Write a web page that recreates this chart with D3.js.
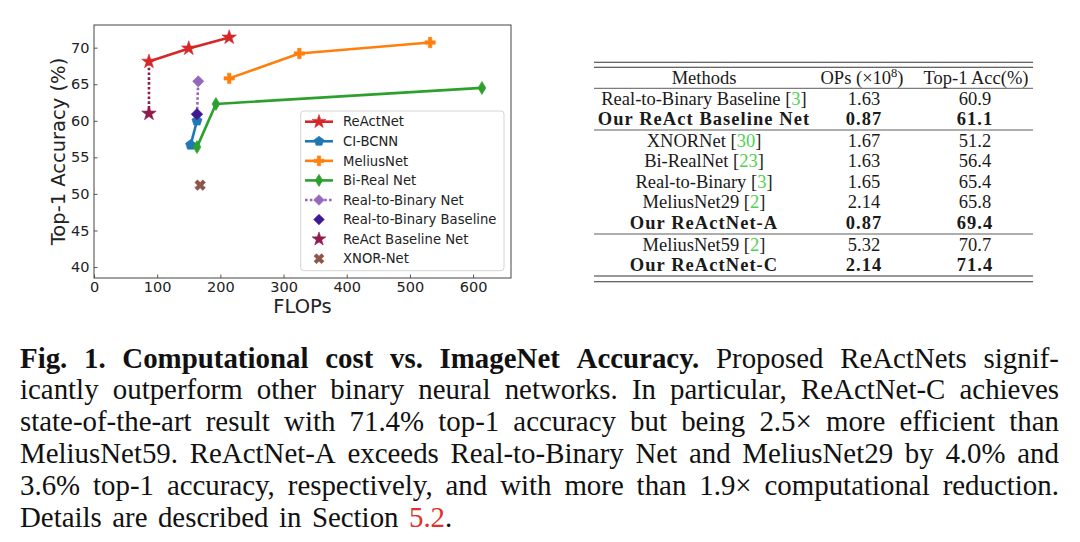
<!DOCTYPE html>
<html><head><meta charset="utf-8">
<script src="https://cdn.jsdelivr.net/npm/d3@7"></script>
<style>body{margin:0;background:#fff} svg{display:block}</style>
</head><body>
<svg id="c" width="1080" height="542"></svg>
<script>
// ---------- chart data (FLOPs ×10^6, Top-1 %) ----------
const reactNetFlops = [87, 150, 214];
const reactNetAcc   = [68.1, 69.9, 71.4];
const ciBcnnFlops   = [153, 163];
const ciBcnnAcc     = [56.7, 60.0];
const meliusFlops   = [214, 325, 532];
const meliusAcc     = [65.8, 69.2, 70.7];
const biRealFlops   = [163, 193, 614];
const biRealAcc     = [56.4, 62.3, 64.5];
const r2bNetFlops   = [163, 165];
const r2bNetAcc     = [60.9, 65.4];
const r2bBaseFlops  = [163];
const r2bBaseAcc    = [60.9];
const reactBaseFlops= [87];
const reactBaseAcc  = [61.0];
const xnorFlops     = [168];
const xnorAcc       = [51.2];
const seriesNames = ["ReActNet","CI-BCNN","MeliusNet","Bi-Real Net","Real-to-Binary Net","Real-to-Binary Baseline","ReAct Baseline Net","XNOR-Net"];
const xTicks = [0,100,200,300,400,500,600];
const yTicks = [40,45,50,55,60,65,70];

// ---------- table data ----------
const tableMethods = ["Real-to-Binary Baseline","Our ReAct Baseline Net","XNORNet","Bi-RealNet","Real-to-Binary","MeliusNet29","Our ReActNet-A","MeliusNet59","Our ReActNet-C"];
const tableRefs    = ["3","","30","23","3","2","","2",""];
const tableOps     = ["1.63","0.87","1.67","1.63","1.65","2.14","0.87","5.32","2.14"];
const tableAcc     = ["60.9","61.1","51.2","56.4","65.4","65.8","69.4","70.7","71.4"];
const tableBold    = [false,true,false,false,false,false,true,false,true];
const tableGroup   = [0,0,1,1,1,1,1,2,2];

// ---------- caption ----------
const captionLines = [
  [{t:"Fig. 1. Computational cost vs. ImageNet Accuracy.", b:true},{t:" Proposed ReActNets signif-"}],
  [{t:"icantly outperform other binary neural networks. In particular, ReActNet-C achieves"}],
  [{t:"state-of-the-art result with 71.4% top-1 accuracy but being 2.5× more efficient than"}],
  [{t:"MeliusNet59. ReActNet-A exceeds Real-to-Binary Net and MeliusNet29 by 4.0% and"}],
  [{t:"3.6% top-1 accuracy, respectively, and with more than 1.9× computational reduction."}],
  [{t:"Details are described in Section "},{t:"5.2", link:true},{t:"."}]
];

const svg = d3.select("#c");

// ================= PLOT =================
const P = {l:94, r:511, t:25, b:278};
const x = d3.scaleLinear().domain([0,660]).range([P.l,P.r]);
const y = d3.scaleLinear().domain([38.5,73.1]).range([P.b,P.t]);
const sans = "'DejaVu Sans', sans-serif";

const gx = svg.append("g").attr("transform",`translate(0,${P.b})`)
  .call(d3.axisBottom(x).tickValues(xTicks).tickSizeInner(-3.5).tickSizeOuter(0).tickPadding(4).tickFormat(d3.format("d")));
const gy = svg.append("g").attr("transform",`translate(${P.l},0)`)
  .call(d3.axisLeft(y).tickValues(yTicks).tickSizeInner(-3.5).tickSizeOuter(0).tickPadding(4.5).tickFormat(d3.format("d")));
[gx,gy].forEach(g=>{
  g.select(".domain").remove();
  g.selectAll(".tick line").attr("stroke","#444").attr("stroke-width",0.9);
  g.selectAll(".tick text").attr("fill","#222").style("font-family",sans).style("font-size","14.5px");
});
svg.append("rect").attr("x",P.l).attr("y",P.t).attr("width",P.r-P.l).attr("height",P.b-P.t)
  .attr("fill","none").attr("stroke","#444").attr("stroke-width",1);

svg.append("text").attr("transform",`translate(58.5,${(P.t+P.b)/2}) rotate(-90)`)
  .attr("text-anchor","middle").attr("dy","0.35em").attr("fill","#222")
  .style("font-family",sans).style("font-size","19.5px").text("Top-1 Accuracy (%)");
svg.append("text").attr("x",(P.l+P.r)/2).attr("y",313).attr("text-anchor","middle").attr("fill","#222")
  .style("font-family",sans).style("font-size","19.5px").text("FLOPs");

// marker shapes
function poly(pts){ return "M"+pts.map(p=>p[0].toFixed(2)+","+p[1].toFixed(2)).join("L")+"Z"; }
const markerPath = {
  star: R => { const pts=[]; for(let i=0;i<10;i++){const r=i%2?R*0.39:R; const a=-Math.PI/2+i*Math.PI/5; pts.push([r*Math.cos(a),r*Math.sin(a)]);} return poly(pts); },
  pentagon: R => { const pts=[]; for(let i=0;i<5;i++){const a=-Math.PI/2+i*2*Math.PI/5; pts.push([R*Math.cos(a),R*Math.sin(a)]);} return poly(pts); },
  plus: R => { const s=1/3; return poly([[-1,-s],[-s,-s],[-s,-1],[s,-1],[s,-s],[1,-s],[1,s],[s,s],[s,1],[-s,1],[-s,s],[-1,s]].map(p=>[p[0]*R,p[1]*R])); },
  thindiamond: R => poly([[0,-R],[0.6*R,0],[0,R],[-0.6*R,0]]),
  diamond: R => poly([[0,-R],[R,0],[0,R],[-R,0]]),
  xfilled: R => { const s=1/3, c=Math.SQRT1_2; return poly([[-1,-s],[-s,-s],[-s,-1],[s,-1],[s,-s],[1,-s],[1,s],[s,s],[s,1],[-s,1],[-s,s],[-1,s]].map(p=>[(p[0]-p[1])*c*R,(p[0]+p[1])*c*R])); }
};

const series = [
  {xs:reactNetFlops, ys:reactNetAcc, color:"#d62728", marker:"star", R:7.6, line:"solid"},
  {xs:ciBcnnFlops,   ys:ciBcnnAcc,   color:"#1f77b4", marker:"pentagon", R:5.3, line:"solid"},
  {xs:meliusFlops,   ys:meliusAcc,   color:"#ff7f0e", marker:"plus", R:5.2, line:"solid"},
  {xs:biRealFlops,   ys:biRealAcc,   color:"#2ca02c", marker:"thindiamond", R:6.5, line:"solid"},
  {xs:r2bNetFlops,   ys:r2bNetAcc,   color:"#9467bd", marker:"diamond", R:5.6, line:"dotted"},
  {xs:r2bBaseFlops,  ys:r2bBaseAcc,  color:"#3c1a94", marker:"diamond", R:5.6, line:"none"},
  {xs:reactBaseFlops,ys:reactBaseAcc,color:"#8e1b4c", marker:"star", R:7.6, line:"none"},
  {xs:xnorFlops,     ys:xnorAcc,     color:"#8c564b", marker:"xfilled", R:5.6, line:"none"}
];
series.forEach((s,i)=>s.name=seriesNames[i]);

const lineGen = d3.line().x(d=>x(d[0])).y(d=>y(d[1]));
// dotted connector ReAct Baseline -> ReActNet
svg.append("path").attr("d",lineGen([[reactBaseFlops[0],reactBaseAcc[0]],[reactNetFlops[0],reactNetAcc[0]]]))
  .attr("fill","none").attr("stroke","#8e1b4c").attr("stroke-width",2.6).attr("stroke-dasharray","2.6,2.2");

series.forEach(s=>{
  const pts = s.xs.map((v,i)=>[v,s.ys[i]]);
  if(s.line!=="none"){
    svg.append("path").attr("d",lineGen(pts)).attr("fill","none").attr("stroke",s.color)
      .attr("stroke-width",2.6).attr("stroke-linejoin","round")
      .attr("stroke-dasharray", s.line==="dotted" ? "2.6,2.2" : null);
  }
  svg.append("g").selectAll("path").data(pts).join("path")
    .attr("transform",d=>`translate(${x(d[0])},${y(d[1])})`)
    .attr("d",markerPath[s.marker](s.R)).attr("fill",s.color).attr("stroke",s.color).attr("stroke-width",0.6);
});

// legend
const L = {x:300.7, y:111, w:203.3, h:159.7, row0:121.7, step:19.57};
svg.append("rect").attr("x",L.x).attr("y",L.y).attr("width",L.w).attr("height",L.h).attr("rx",3)
  .attr("fill","#fff").attr("fill-opacity",0.85).attr("stroke","#d4d4d4").attr("stroke-width",1);
series.forEach((s,i)=>{
  const yy = L.row0 + i*L.step;
  if(s.line!=="none"){
    svg.append("line").attr("x1",305).attr("x2",333).attr("y1",yy).attr("y2",yy)
      .attr("stroke",s.color).attr("stroke-width",2.6)
      .attr("stroke-dasharray", s.line==="dotted" ? "2.6,2.2" : null);
  }
  svg.append("path").attr("transform",`translate(319,${yy})`).attr("d",markerPath[s.marker](s.R*0.95))
    .attr("fill",s.color).attr("stroke",s.color).attr("stroke-width",0.6);
  svg.append("text").attr("x",343).attr("y",yy).attr("dy","0.36em").attr("fill","#222")
    .style("font-family",sans).style("font-size","13.2px").text(s.name);
});

// ================= TABLE =================
const serif = "'Liberation Serif', 'Times New Roman', serif";
const T = {x1:594, x2:1033, c1:704, c2:863, c3:975, fs:18.5};
const rowY = i => 98.8 + i*20.4 + tableGroup[i]*1.6;
const rule = (yy,w)=>svg.append("line").attr("x1",T.x1).attr("x2",T.x2).attr("y1",yy).attr("y2",yy).attr("stroke","#333").attr("stroke-width",w);
rule(62.3,1.1); rule(67.3,1.1); rule(88.3,0.8); rule(130,0.8); rule(234,0.8); rule(276,1.1); rule(281.7,1.1);

const tx = (xx,yy,bold)=>svg.append("text").attr("x",xx).attr("y",yy).attr("text-anchor","middle").attr("fill","#1a1a1a")
  .style("font-family",serif).style("font-size",T.fs+"px").style("font-weight",bold?"bold":"normal")
  .style("letter-spacing",bold?"1.05px":"0px");
const hy = 77.7 + 5.8;
tx(T.c1,hy,false).text("Methods");
const hOps = tx(T.c2-1,hy,false); hOps.append("tspan").text("OPs (×10"); hOps.append("tspan").attr("dy",-7).style("font-size","12.5px").text("8"); hOps.append("tspan").attr("dy",7).text(")");
tx(T.c3+1,hy,false).text("Top-1 Acc(%)");
tableMethods.forEach((m,i)=>{
  const yy = rowY(i) + 5.8, b = tableBold[i];
  const t = tx(T.c1,yy,b);
  t.append("tspan").text(m);
  if(tableRefs[i]){
    t.append("tspan").text(" [");
    t.append("tspan").attr("fill","#4fd14f").text(tableRefs[i]);
    t.append("tspan").text("]");
  }
  tx(T.c2+1,yy,b).text(tableOps[i]);
  tx(T.c3,yy,b).text(tableAcc[i]);
});

// ================= CAPTION =================
const C = {x0:20, x1:1059, base:367.5, step:31.8, fs0:27};
const lines = captionLines.map(segs=>{
  const words=[[]];
  segs.forEach(seg=>{
    seg.t.split(" ").forEach((part,j)=>{
      if(j>0) words.push([]);
      if(part!=="") words[words.length-1].push({...seg,t:part});
    });
  });
  return words.filter(w=>w.length);
});
function styleT(sel,p,fs){
  sel.style("font-family",serif).style("font-size",fs+"px").style("font-weight",p.b?"bold":"normal")
    .attr("fill",p.link?"#e0312b":"#111");
}
const tmp = svg.append("g").attr("opacity",0);
function wordWidth(w,fs){
  const t = tmp.append("text");
  w.forEach(p=>styleT(t.append("tspan").text(p.t),p,fs));
  const len = t.node().getComputedTextLength(); t.remove(); return len;
}
const W = C.x1 - C.x0;
let widths = lines.map(ws=>ws.map(w=>wordWidth(w,C.fs0)));
let minR = Infinity;
lines.forEach((ws,li)=>{ if(li<lines.length-1){ const nat = d3.sum(widths[li]) + (ws.length-1)*0.3*C.fs0; minR=Math.min(minR,W/nat);} });
const k = Math.max(0.95, Math.min(1.07, minR*0.995));
const fs = C.fs0*k;
widths = widths.map(a=>a.map(v=>v*k));
let gaps=[];
lines.forEach((ws,li)=>{
  const last = li===lines.length-1;
  const gap = last ? Math.min(d3.mean(gaps), 0.36*fs) : (W - d3.sum(widths[li]))/(ws.length-1);
  if(!last) gaps.push(gap);
  let xx = C.x0;
  const yy = C.base + li*C.step;
  ws.forEach((w,wi)=>{
    const t = svg.append("text").attr("x",xx).attr("y",yy);
    w.forEach(p=>styleT(t.append("tspan").text(p.t),p,fs));
    xx += widths[li][wi] + gap;
  });
});
tmp.remove();
</script>
</body></html>
